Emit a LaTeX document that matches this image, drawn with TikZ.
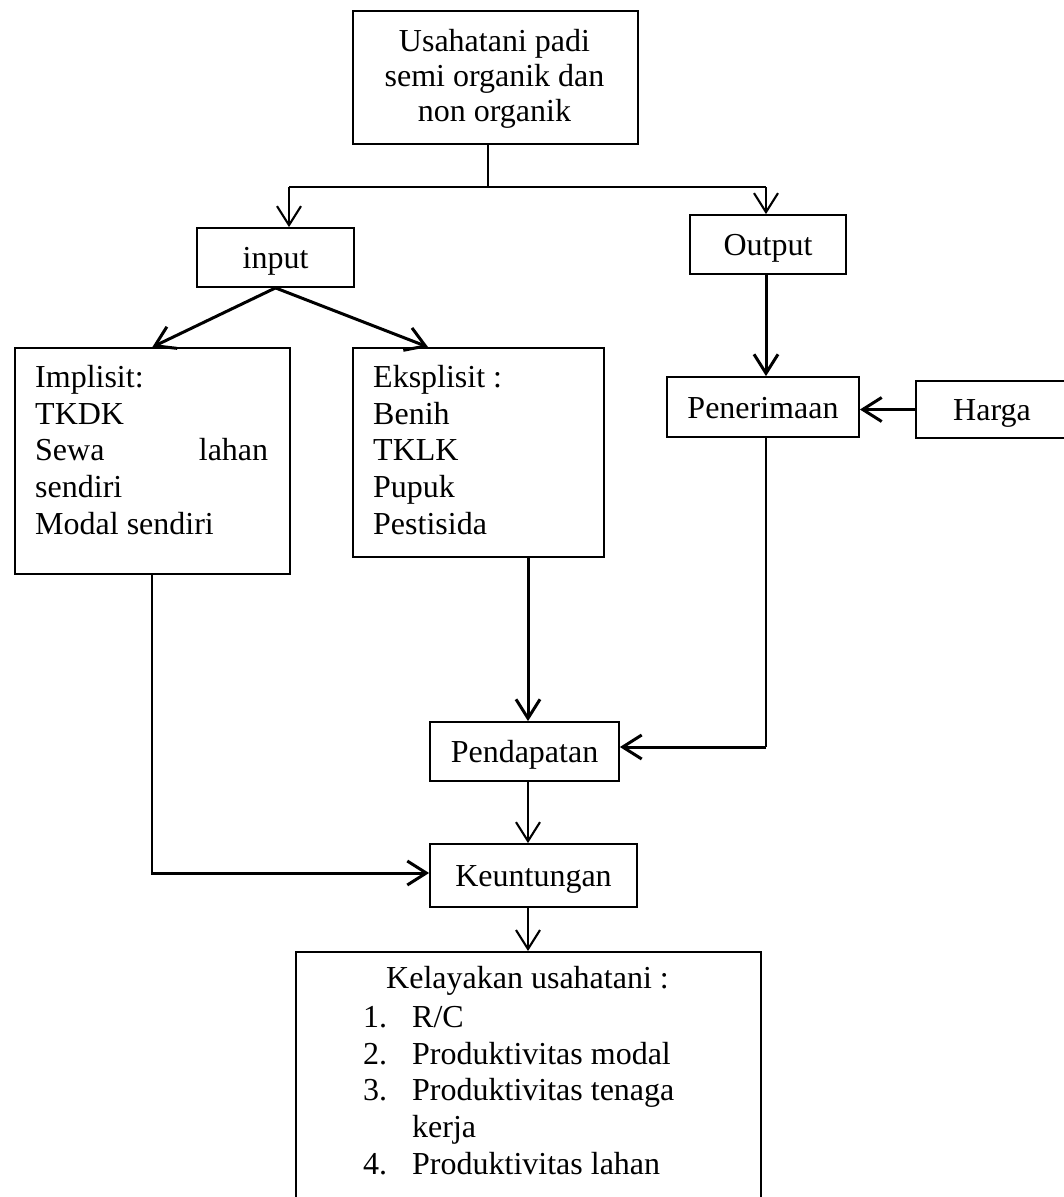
\documentclass[tikz,border=0pt]{standalone}
\usepackage{fontspec}
\setmainfont{Liberation Serif}
\usetikzlibrary{arrows.meta,calc}
\begin{document}
\begin{tikzpicture}[x=1pt,y=-1pt,
  box/.style={draw, line width=1.8pt, inner sep=0pt, text height=29pt, text depth=7pt,
    font=\fontsize{32}{36.8}\selectfont},
  frame/.style={draw, line width=1.8pt, inner sep=0pt, anchor=north west},
  txt/.style={inner sep=0pt, font=\fontsize{32}{36.8}\selectfont, align=left, anchor=north west},
  thinline/.style={line width=1.3pt},
  midarrow/.style={line width=2.1pt, -{Straight Barb[length=19pt,width=24pt]}},
  thickarrow/.style={line width=3pt, -{Straight Barb[length=19pt,width=24pt]}},
]
\useasboundingbox (0,0) rectangle (1064,1197);
\clip (0,0) rectangle (1064,1197);

% boxes
\node[frame, minimum width=285pt, minimum height=133pt] (top) at (352,10) {};
\node[txt, align=center, anchor=north, font=\fontsize{32}{35}\selectfont] (toptext) at (494.5,27)
  {\strut Usahatani padi\\semi organik dan\\non organik};

\node[box, minimum width=157pt, minimum height=59pt] (input) at (275.5,257.5) {input};
\node[box, minimum width=156pt, minimum height=59pt] (output) at (768,244.5) {Output};

\node[frame, minimum width=275pt, minimum height=226pt] (impl) at (14,347) {};
\node[txt] (impltext) at (35,361.24)
  {\strut Implisit:\\TKDK\\\hbox to 233pt{Sewa\hfill lahan}\\sendiri\\Modal sendiri};

\node[frame, minimum width=251pt, minimum height=209pt] (eks) at (352,347) {};
\node[txt] (ekstext) at (373,361.24)
  {\strut Eksplisit :\\Benih\\TKLK\\Pupuk\\Pestisida};

\node[box, minimum width=192pt, minimum height=60pt] (pen) at (763,407) {Penerimaan};
\node[box, minimum width=152pt, minimum height=57pt] (harga) at (992,409.5) {Harga};

\node[box, minimum width=189pt, minimum height=59pt] (pend) at (524.5,751.5) {Pendapatan};
\node[box, minimum width=207pt, minimum height=63pt] (keu) at (533.5,875.5) {Keuntungan};

\node[frame, minimum width=465pt, minimum height=300pt] (kel) at (295,951) {};
\node[inner sep=0pt, anchor=base, font=\fontsize{32}{36.8}\selectfont] (keltitle) at (527.5,988)
  {Kelayakan usahatani :};
\node[txt] (kellist) at (363,1001.24)
  {\strut\makebox[49pt][l]{1.}R/C\\
   \makebox[49pt][l]{2.}Produktivitas modal\\
   \makebox[49pt][l]{3.}Produktivitas tenaga\\
   \hspace*{49pt}kerja\\
   \makebox[49pt][l]{4.}Produktivitas lahan};

% connectors
\coordinate (jc) at (488,187);
\coordinate (jl) at (289,187);
\coordinate (jr) at (766,187);
\draw[thinline] (top.south -| jc) -- (jc);
\draw[thinline] (jl) -- (jr);
\draw[midarrow] (jl) -- (input.north -| jl);
\draw[midarrow] (jr) -- (output.north -| jr);

\draw[thickarrow] (input.south) -- (impl.north);
\draw[thickarrow] (input.south) -- ($(eks.north west)+(76,0)$);

\draw[thickarrow] (output.south -| jr) -- (pen.north -| jr);
\draw[thickarrow] (harga.west) -- (harga.west -| pen.east);

\coordinate (jp) at (766,747);
\draw[thinline] (pen.south -| jr) -- (jp);
\draw[thickarrow] (jp) -- (pend.east |- jp);

\coordinate (e1) at ($(eks.south west)+(176,0)$);
\draw[thickarrow] (e1) -- (e1 |- pend.north);
\draw[midarrow] (pend.south -| e1) -- (keu.north -| e1);

\coordinate (jk) at (152,873);
\draw[thinline] (impl.south -| jk) -- (jk);
\draw[thickarrow, line cap=rect] (jk) -- (keu.west |- jk);

\draw[midarrow] (keu.south -| e1) -- (kel.north -| e1);
\end{tikzpicture}
\end{document}
